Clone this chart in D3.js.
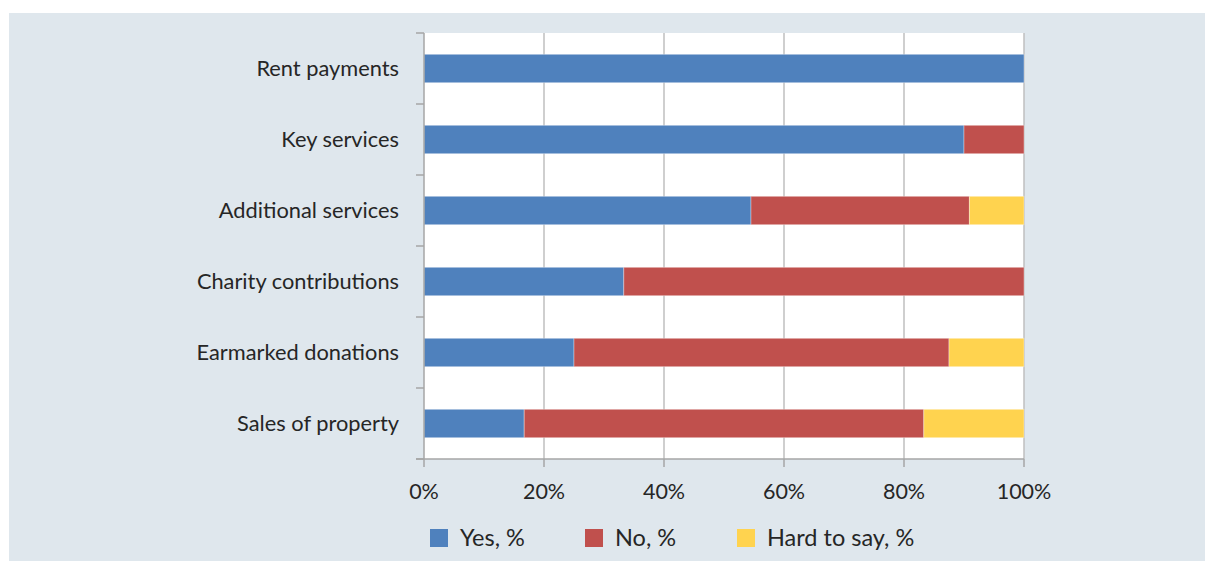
<!DOCTYPE html>
<html>
<head>
<meta charset="utf-8">
<script src="https://cdn.jsdelivr.net/npm/d3@7"></script>
<style>
  html, body { margin: 0; padding: 0; background: #ffffff; }
  svg { display: block; }
  text { font-family: Lato, "Open Sans", sans-serif; fill: #262626; }
</style>
</head>
<body>
<svg id="chart" width="1205" height="561"></svg>
<script>
const categories = ["Rent payments", "Key services", "Additional services", "Charity contributions", "Earmarked donations", "Sales of property"];
const seriesNames = ["Yes, %", "No, %", "Hard to say, %"];
const yesValues  = [100, 90, 54.5, 33.3, 25, 16.7];
const noValues   = [0, 10, 36.4, 66.7, 62.5, 66.6];
const hardValues = [0, 0, 9.1, 0, 12.5, 16.7];
const seriesColors = ["#4F81BD", "#C0504D", "#FFD34F"];
const tickValues = [0, 20, 40, 60, 80, 100];

const svg = d3.select("#chart");
const W = 1205, H = 561;

svg.append("rect").attr("x", 9).attr("y", 13).attr("width", W - 9).attr("height", H - 13).attr("fill", "#DFE7ED");

const plot = { left: 424, right: 1024, top: 33, bottom: 459 };
svg.append("rect").attr("x", plot.left).attr("y", plot.top)
  .attr("width", plot.right - plot.left).attr("height", plot.bottom - plot.top).attr("fill", "#ffffff");

const x = d3.scaleLinear().domain([0, 100]).range([plot.left, plot.right]);
const y = d3.scaleBand().domain(categories).range([plot.top, plot.bottom]).paddingInner(0.6).paddingOuter(0.3);

// gridlines
svg.append("g").selectAll("line").data(tickValues.slice(1)).join("line")
  .attr("x1", d => x(d)).attr("x2", d => x(d))
  .attr("y1", plot.top).attr("y2", plot.bottom)
  .attr("stroke", "#BFBFBF").attr("stroke-width", 1.5);

// stacked data
const rows = categories.map((c, i) => ({ cat: c, yes: yesValues[i], no: noValues[i], hard: hardValues[i] }));
const stack = d3.stack().keys(["yes", "no", "hard"])(rows);

svg.append("g").selectAll("g").data(stack).join("g")
  .attr("fill", (d, i) => seriesColors[i])
  .selectAll("rect").data(d => d.filter(p => p[1] - p[0] > 0)).join("rect")
  .attr("x", d => x(d[0]))
  .attr("y", d => y(d.data.cat))
  .attr("width", d => x(d[1]) - x(d[0]))
  .attr("height", y.bandwidth())
  .attr("stroke", "rgba(255,255,255,0.35)").attr("stroke-width", 1);

// left axis
const yAxisG = svg.append("g");
yAxisG.append("line").attr("x1", plot.left).attr("x2", plot.left)
  .attr("y1", plot.top).attr("y2", plot.bottom).attr("stroke", "#A6A6A6").attr("stroke-width", 1.5);
const catStep = (plot.bottom - plot.top) / categories.length;
yAxisG.selectAll("line.tk").data(d3.range(categories.length + 1)).join("line").attr("class", "tk")
  .attr("x1", plot.left - 8).attr("x2", plot.left)
  .attr("y1", i => plot.top + i * catStep).attr("y2", i => plot.top + i * catStep)
  .attr("stroke", "#A6A6A6").attr("stroke-width", 1.5);
yAxisG.selectAll("text").data(categories).join("text")
  .attr("x", plot.left - 25)
  .attr("y", d => y(d) + y.bandwidth() / 2)
  .attr("dy", "0.35em")
  .attr("text-anchor", "end")
  .attr("font-size", 21.8)
  .text(d => d);

// bottom axis
const xAxisG = svg.append("g");
xAxisG.append("line").attr("x1", plot.left - 8).attr("x2", plot.right)
  .attr("y1", plot.bottom).attr("y2", plot.bottom).attr("stroke", "#A6A6A6").attr("stroke-width", 1.5);
xAxisG.selectAll("line.tk").data(tickValues).join("line").attr("class", "tk")
  .attr("x1", d => x(d)).attr("x2", d => x(d))
  .attr("y1", plot.bottom).attr("y2", plot.bottom + 8)
  .attr("stroke", "#A6A6A6").attr("stroke-width", 1.5);
xAxisG.selectAll("text").data(tickValues).join("text")
  .attr("x", d => x(d)).attr("y", 499)
  .attr("text-anchor", "middle").attr("font-size", 21.5)
  .text(d => d + "%");

// legend
const legendX = [430, 585, 737];
const lg = svg.append("g").selectAll("g").data(seriesNames).join("g")
  .attr("transform", (d, i) => `translate(${legendX[i]},529)`);
lg.append("rect").attr("width", 18).attr("height", 18).attr("fill", (d, i) => seriesColors[i]);
lg.append("text").attr("x", 30).attr("y", 9).attr("dy", "0.36em").attr("font-size", 23.5).text(d => d);
</script>
</body>
</html>
